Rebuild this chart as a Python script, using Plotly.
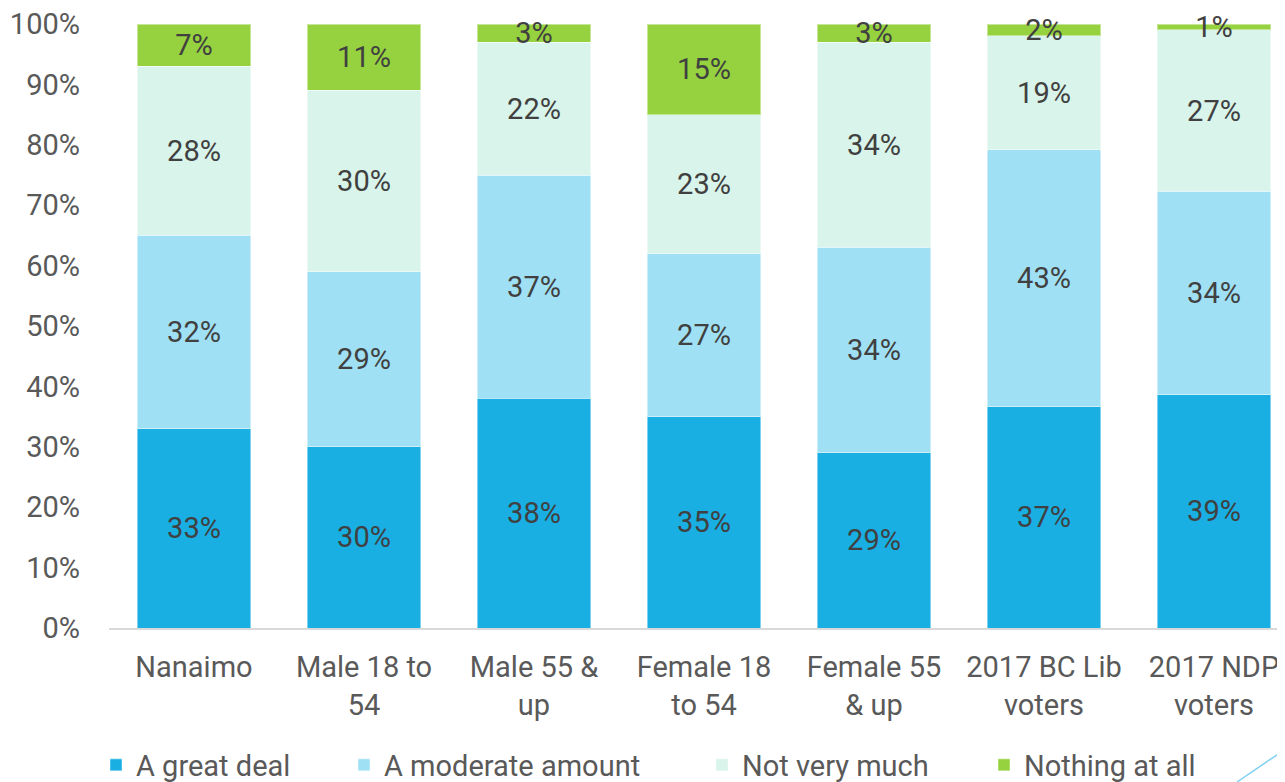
import plotly.graph_objects as go

categories = [
    "Nanaimo",
    "Male 18 to<br>54",
    "Male 55 &<br>up",
    "Female 18<br>to 54",
    "Female 55<br>& up",
    "2017 BC Lib<br>voters",
    "2017 NDP<br>voters",
]
great_deal = [33, 30, 38, 35, 29, 37, 39]
moderate_amount = [32, 29, 37, 27, 34, 43, 34]
not_very_much = [28, 30, 22, 23, 34, 19, 27]
nothing_at_all = [7, 11, 3, 15, 3, 2, 1]

series = [
    ("A great deal", great_deal, "#19AFE3"),
    ("A moderate amount", moderate_amount, "#A0E0F4"),
    ("Not very much", not_very_much, "#D9F4EA"),
    ("Nothing at all", nothing_at_all, "#96D23F"),
]

FONT = "Roboto, 'Open Sans', sans-serif"
# the page body adds an 8px offset, so the figure is a bit smaller than the window
OFF = 8
W, H = 1285 - OFF, 782 - OFF
LEFT = 109 - OFF
TOP = 24 - OFF
BOTTOM = H - (628 - OFF)
plot_w = W - LEFT
plot_h = H - TOP - BOTTOM


def px_x(px):
    return (px - OFF - LEFT) / plot_w


def px_y(py):
    return (H - BOTTOM - (py - OFF)) / plot_h


legend_left = [96, 344, 702, 984]

fig = go.Figure()
legends = {}
for i, (name, vals, color) in enumerate(series):
    key = "legend" if i == 0 else f"legend{i + 1}"
    fig.add_trace(
        go.Bar(
            x=categories,
            y=vals,
            name=name,
            marker={"color": color, "line": {"color": "rgba(255,255,255,0.45)", "width": 1}},
            text=[f"{v}%" for v in vals],
            textposition="inside",
            insidetextanchor="middle",
            textfont={"color": "#404040", "size": 29, "family": FONT},
            cliponaxis=False,
            legend=key,
            showlegend=True,
            hoverinfo="skip",
        )
    )
    legends[key] = {
        "x": px_x(legend_left[i]),
        "y": px_y(765),
        "xanchor": "left",
        "yanchor": "middle",
        "orientation": "h",
        "itemwidth": 30,
        "font": {"size": 29, "color": "#595959", "family": FONT},
        "bgcolor": "rgba(0,0,0,0)",
    }

fig.add_shape(
    type="line",
    xref="paper",
    yref="paper",
    x0=px_x(1237),
    y0=px_y(782),
    x1=px_x(1287),
    y1=px_y(748),
    line={"color": "#7FD0F0", "width": 1.5},
)

fig.update_layout(
    width=W,
    height=H,
    showlegend=True,
    barmode="stack",
    barnorm="percent",
    bargap=0.33,
    margin={"l": LEFT, "r": 0, "t": TOP, "b": BOTTOM, "autoexpand": False},
    paper_bgcolor="white",
    plot_bgcolor="white",
    font={"family": FONT, "color": "#595959", "size": 29},
    uniformtext={"minsize": 29, "mode": "show"},
    xaxis={
        "range": [-0.5, -0.5 + plot_w / 170],
        "automargin": False,
        "showgrid": False,
        "showline": True,
        "linecolor": "#D9D9D9",
        "linewidth": 2,
        "ticks": "",
        "ticklabelstandoff": 12,
        "ticklabeloverflow": "allow",
        "tickfont": {"size": 29, "color": "#595959"},
    },
    yaxis={
        "range": [0, 100],
        "dtick": 10,
        "ticksuffix": "%",
        "automargin": False,
        "showgrid": False,
        "zeroline": False,
        "ticks": "",
        "ticklabelstandoff": 28,
        "ticklabeloverflow": "allow",
        "tickfont": {"size": 29, "color": "#595959"},
    },
    **legends,
)

fig.write_html("out.html")
